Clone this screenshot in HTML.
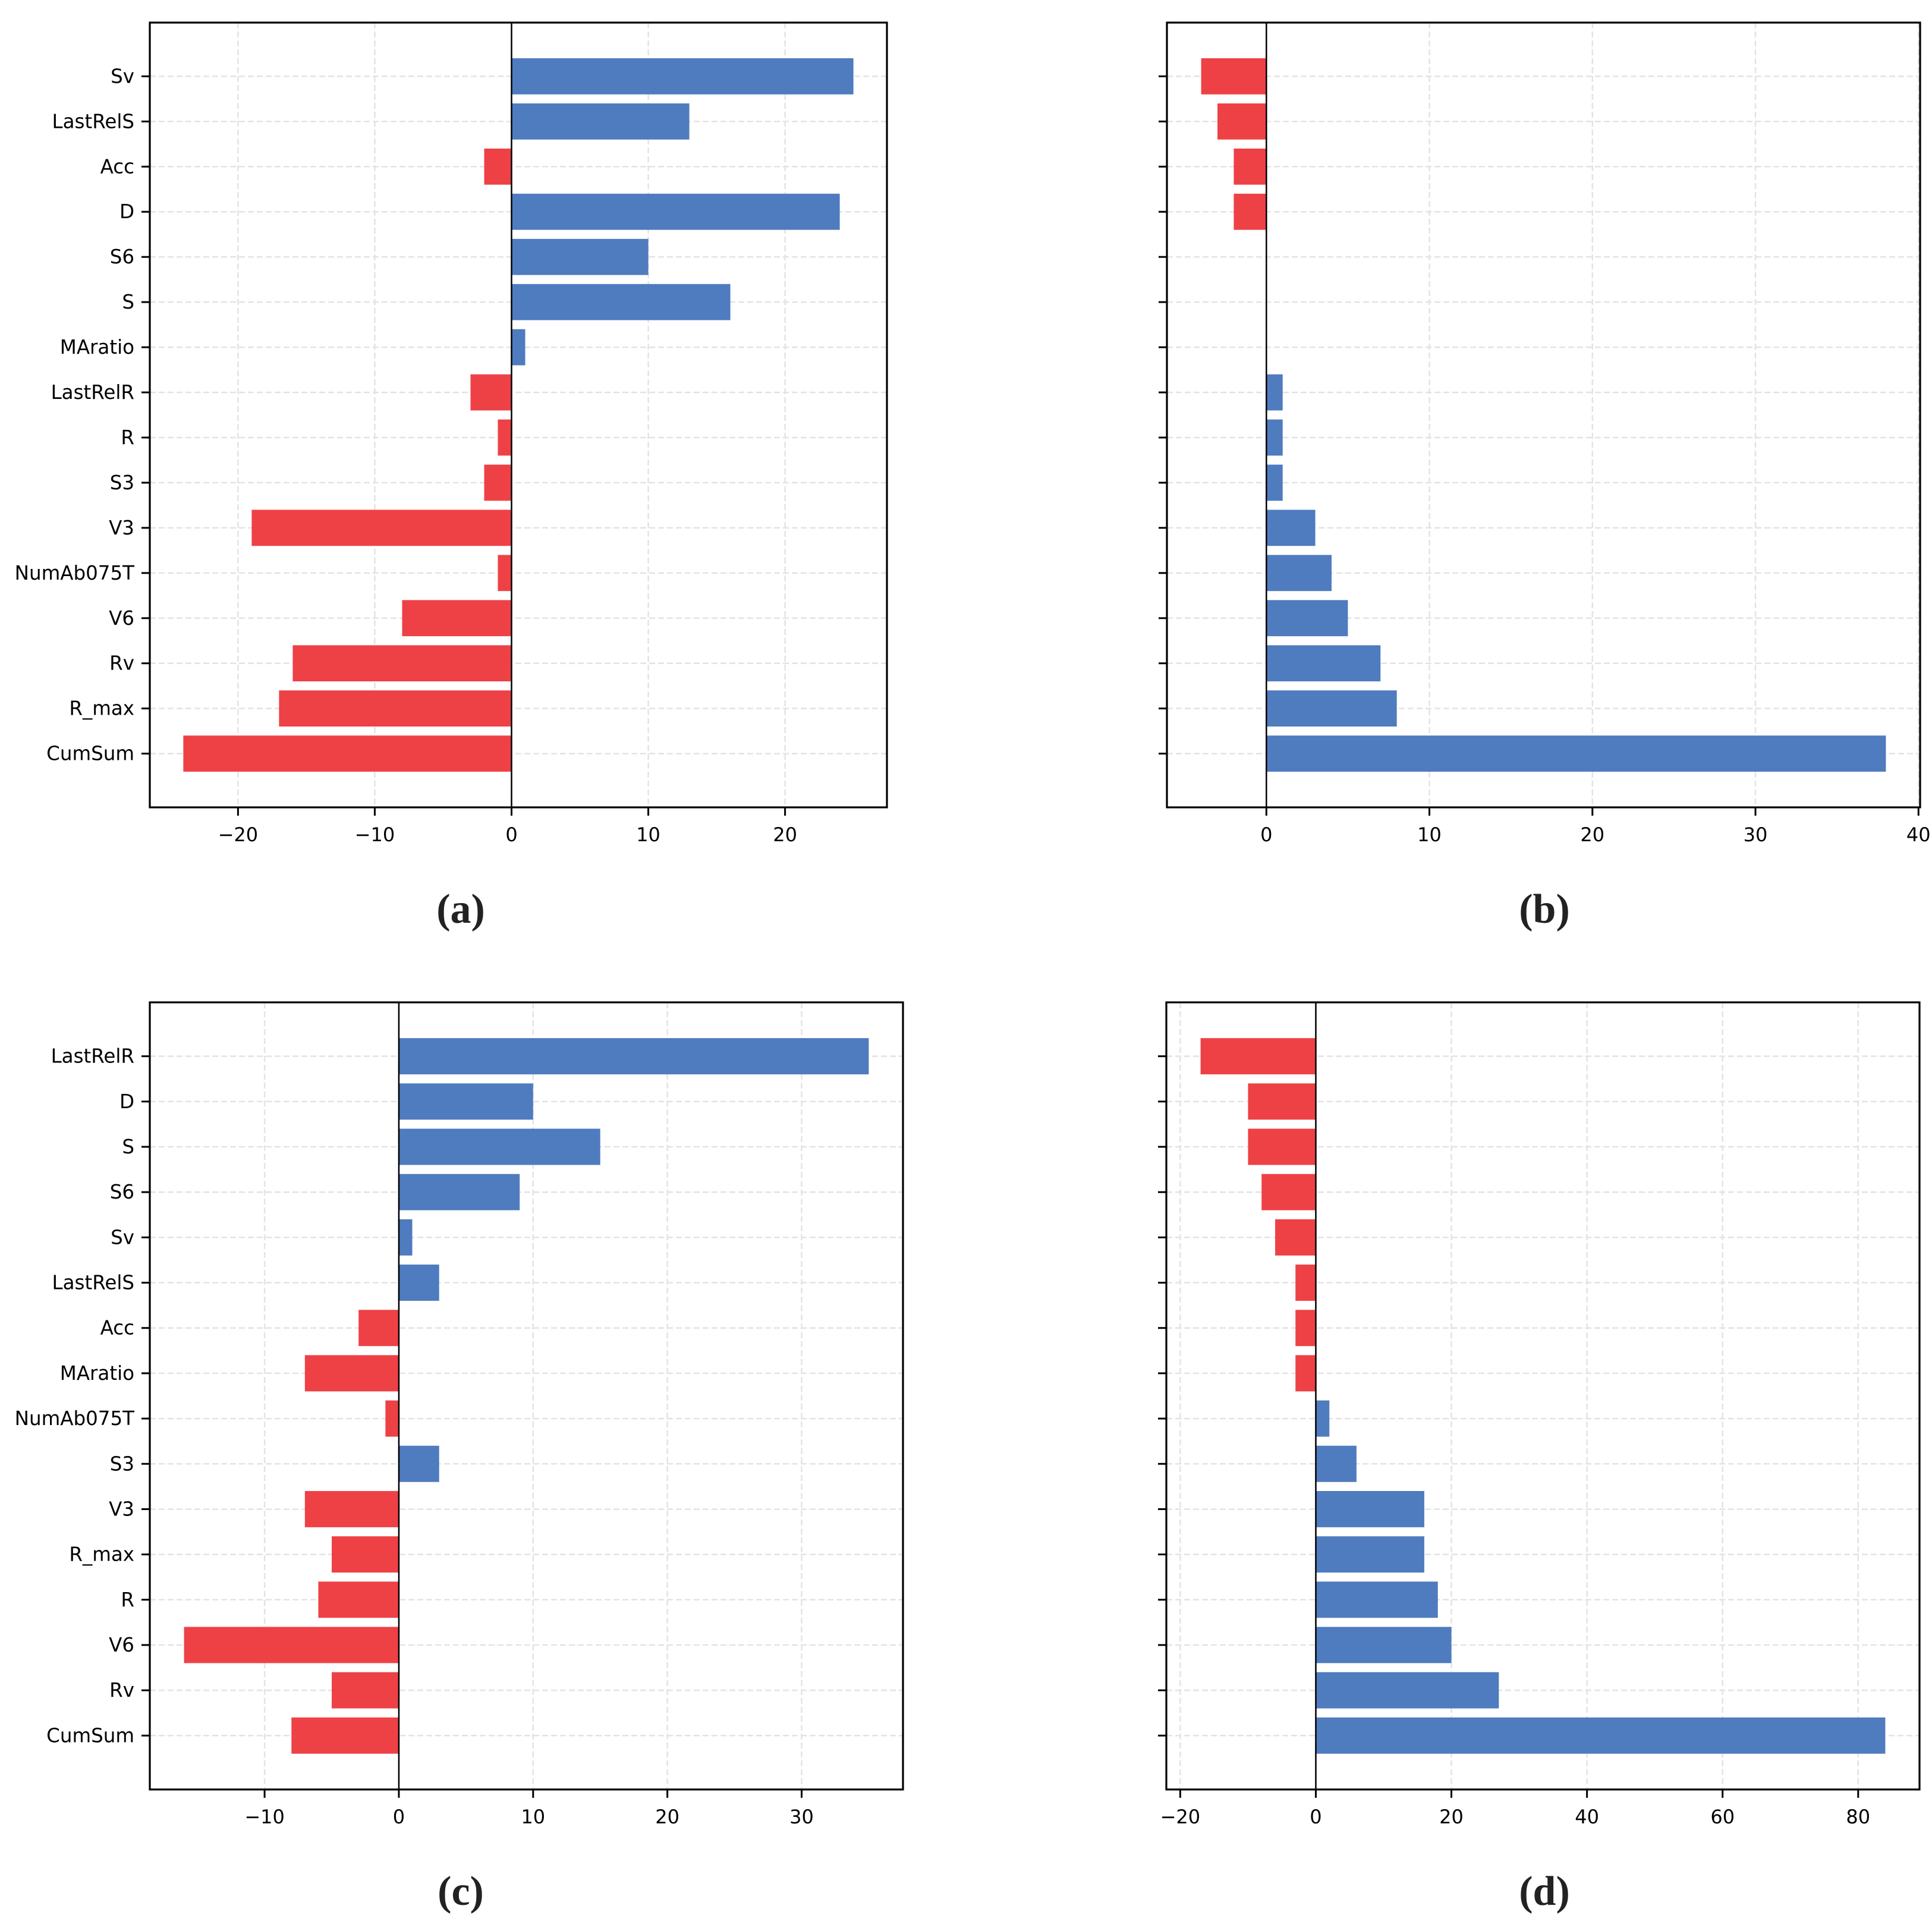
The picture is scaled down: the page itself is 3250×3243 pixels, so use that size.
<!DOCTYPE html>
<html><head><meta charset="utf-8"><style>
html,body{margin:0;padding:0;background:#fff}
svg{display:block}
text{font-family:"DejaVu Sans","Liberation Sans",sans-serif}
.cap{font-family:"Liberation Serif","DejaVu Serif",serif;font-weight:bold}
</style></head><body>
<svg id="fig" width="3250" height="3243" viewBox="0 0 3250 3243" xmlns="http://www.w3.org/2000/svg"></svg>
<script>
const labelsA = ["Sv","LastRelS","Acc","D","S6","S","MAratio","LastRelR","R","S3","V3","NumAb075T","V6","Rv","R_max","CumSum"];
const valuesA = [25,13,-2,24,10,16,1,-3,-1,-2,-19,-1,-8,-16,-17,-24];
const ticksA = [-20,-10,0,10,20];
const valuesB = [-4,-3,-2,-2,0,0,0,1,1,1,3,4,5,7,8,38];
const ticksB = [0,10,20,30,40];
const labelsC = ["LastRelR","D","S","S6","Sv","LastRelS","Acc","MAratio","NumAb075T","S3","V3","R_max","R","V6","Rv","CumSum"];
const valuesC = [35,10,15,9,1,3,-3,-7,-1,3,-7,-5,-6,-16,-5,-8];
const ticksC = [-10,0,10,20,30];
const valuesD = [-17,-10,-10,-8,-6,-3,-3,-3,2,6,16,16,18,20,27,84];
const ticksD = [-20,0,20,40,60,80];

const NS = "http://www.w3.org/2000/svg";
const svg = document.getElementById('fig');
function mk(tag, attrs, parent){const e=document.createElementNS(NS,tag);for(const k in attrs)e.setAttribute(k,attrs[k]);(parent||svg).appendChild(e);return e;}

function panel(id, box, values, labels, ticks, cap, capX, capY){
  const g = mk('g',{});
  
  
  const mn=Math.min(0,...values), mx=Math.max(0,...values);
  const m=(mx-mn)*0.05, x0=mn-m, x1=mx+m;
  const n=values.length;
  const y0=-0.4-0.05*(n-1+0.8), y1=n-1+0.4+0.05*(n-1+0.8);
  const X=v=>box.l+(v-x0)/(x1-x0)*(box.r-box.l);
  const Y=i=>box.t+(i-y0)/(y1-y0)*(box.b-box.t);
  ticks.forEach(t=>{const l=mk('line',{x1:X(t),x2:X(t),y1:box.t,y2:box.b,stroke:'#e3e3e3','stroke-width':2.5,'stroke-dasharray':'10,5'},g);
    });
  values.forEach((v,i)=>{const l=mk('line',{x1:box.l,x2:box.r,y1:Y(i),y2:Y(i),stroke:'#e3e3e3','stroke-width':2.5,'stroke-dasharray':'10,5'},g);
    });
  const bh=0.8*(Y(1)-Y(0));
  values.forEach((v,i)=>{
    const r=mk('rect',{x:Math.min(X(0),X(v)),y:Y(i)-bh/2,width:Math.abs(X(v)-X(0)),height:bh,fill:v>=0?'#4f7bbf':'#ee4146'},g);
    
    
  });
  mk('line',{x1:X(0),x2:X(0),y1:box.t,y2:box.b,stroke:'#000','stroke-width':2.5},g);
  const fr=mk('rect',{x:box.l,y:box.t,width:box.r-box.l,height:box.b-box.t,fill:'none',stroke:'#000','stroke-width':3.2},g);
  
  ticks.forEach(t=>{
    mk('line',{x1:X(t),x2:X(t),y1:box.b,y2:box.b+14,stroke:'#000','stroke-width':3},g);
    const tx=mk('text',{x:X(t),y:box.b+57,'font-size':32,'text-anchor':'middle',fill:'#000'},g);
    tx.textContent=(t<0?'\u2212'+(-t):String(t));
    
  });
  values.forEach((v,i)=>{
    mk('line',{x1:box.l-14,x2:box.l,y1:Y(i),y2:Y(i),stroke:'#000','stroke-width':3},g);
    if(labels){const tx=mk('text',{x:box.l-26,y:Y(i)+11,'font-size':32.5,'text-anchor':'end',fill:'#000'},g);
      tx.textContent=labels[i];
      }
  });
  const c=mk('text',{x:capX,y:capY,'font-size':70,'text-anchor':'middle',fill:'#222',class:'cap'},g);
  c.textContent=cap;
  
}
panel('a',{l:252,r:1492,t:38,b:1358},valuesA,labelsA,ticksA,'(a)',775,1552);
panel('b',{l:1963,r:3230,t:38,b:1358},valuesB,null,ticksB,'(b)',2598,1552);
panel('c',{l:252,r:1519,t:1686,b:3010},valuesC,labelsC,ticksC,'(c)',775,3204);
panel('d',{l:1962,r:3229,t:1686,b:3010},valuesD,null,ticksD,'(d)',2598,3204);
</script>
</body></html>
